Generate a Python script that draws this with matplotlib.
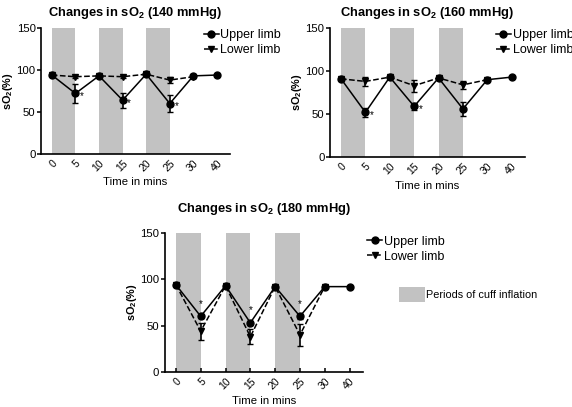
import numpy as np
import matplotlib
matplotlib.use("Agg")
import matplotlib.pyplot as plt
from matplotlib.lines import Line2D
from matplotlib.patches import Patch

plt.rcParams['font.family'] = ['Liberation Sans', 'DejaVu Sans']
plt.rcParams['mathtext.fontset'] = 'custom'
plt.rcParams['mathtext.rm'] = 'Liberation Sans'
plt.rcParams['mathtext.bf'] = 'Liberation Sans:bold'

time_labels = ['0', '5', '10', '15', '20', '25', '30', '40']
cuff_periods = [(0, 1), (2, 3), (4, 5)]

# 140 mmHg
up140 = [94, 72, 93, 64, 95, 60, 93, 94]
up140_err = [1, 11, 1, 9, 1, 10, 1, 1]
lo140 = [94, 92, 93, 92, 95, 88, 92, np.nan]
lo140_err = [1, 1, 1, 1, 1, 4, 1, 0]
star140 = [1, 3, 5]

# 160 mmHg
up160 = [91, 52, 93, 59, 92, 56, 90, 93]
up160_err = [1, 5, 1, 4, 1, 8, 1, 1]
lo160 = [91, 88, 93, 83, 92, 84, 90, np.nan]
lo160_err = [1, 5, 1, 7, 1, 5, 1, 0]
star160 = [1, 3]

# 180 mmHg
up180 = [94, 60, 93, 53, 92, 60, 92, 92]
up180_err = [1, 2, 1, 2, 1, 3, 1, 1]
lo180 = [94, 44, 93, 38, 92, 40, 92, np.nan]
lo180_err = [1, 9, 1, 8, 1, 12, 1, 0]
star180 = [1, 3, 5]

fig = plt.figure(figsize=(5.72, 4.07), dpi=100)

def panel(rect, title, up, up_err, lo, lo_err, stars, star_above, legend_pos,
          title_pad=9, cuff_legend=False, xtick_dir='out', xtick_len=0):
    ax = fig.add_axes(rect)
    x = np.arange(len(time_labels))
    for a, b in cuff_periods:
        ax.axvspan(a, b, ymin=0, ymax=1, color='#c2c2c2', lw=0, zorder=0)
    ax.errorbar(x, lo, yerr=lo_err, color='black', ls='--', lw=1.1, marker='v',
                ms=5, capsize=2.5, elinewidth=1.2, zorder=3)
    ax.errorbar(x, up, yerr=up_err, color='black', ls='-', lw=1.1, marker='o',
                ms=5, capsize=2.5, elinewidth=1.2, zorder=4)
    for i in stars:
        if star_above:
            ax.text(x[i], up[i] + 8, '*', fontsize=7, ha='center', va='bottom')
        else:
            ax.text(x[i] + 0.2, up[i] - 3, '*', fontsize=7, ha='left', va='center')
    ax.set_xlim(-0.45, 7.55)
    ax.set_ylim(0, 150)
    ax.set_yticks([0, 50, 100, 150])
    ax.set_xticks(x)
    ax.set_xticklabels(time_labels, rotation=45, ha='right', rotation_mode='anchor', fontsize=7.5)
    ax.tick_params(axis='y', labelsize=8.2, length=3, width=1.1, pad=1)
    ax.tick_params(axis='x', length=xtick_len, width=1.1, pad=3, direction=xtick_dir)
    for s in ['top', 'right']:
        ax.spines[s].set_visible(False)
    for s in ['left', 'bottom']:
        ax.spines[s].set_linewidth(1.2)
    ax.set_title(title, fontsize=9.3, fontweight='bold', pad=title_pad)
    ax.set_ylabel(r'sO$_\mathbf{2}$(%)', fontsize=7.8, fontweight='bold', labelpad=1)
    ax.set_xlabel('Time in mins', fontsize=8.2, labelpad=3)
    handles = [Line2D([0], [0], color='black', ls='-', marker='o', ms=5, lw=1.1),
               Line2D([0], [0], color='black', ls='--', marker='v', ms=5, lw=1.1)]
    leg = ax.legend(handles, ['Upper limb', 'Lower limb'], loc='upper left',
                    bbox_to_anchor=legend_pos, frameon=False, fontsize=9,
                    handlelength=1.2, handletextpad=0.15, borderaxespad=0,
                    borderpad=0, labelspacing=0.25)
    if cuff_legend:
        ax.add_artist(leg)
        ax.legend([Patch(facecolor='#c2c2c2', edgecolor='none')], ['Periods of cuff inflation'],
                  loc='upper left', bbox_to_anchor=(1.18, 0.61),
                  frameon=False, fontsize=7.8, handlelength=2.4, handleheight=1.7,
                  handletextpad=0.1, borderaxespad=0, borderpad=0)
    return ax

panel([0.072, 0.622, 0.330, 0.309], r'Changes in sO$_\mathbf{2}$ (140 mmHg)',
      up140, up140_err, lo140, lo140_err, star140, False, (0.86, 0.99))
panel([0.577, 0.614, 0.341, 0.317], r'Changes in sO$_\mathbf{2}$ (160 mmHg)',
      up160, up160_err, lo160, lo160_err, star160, False, (0.85, 0.99))
panel([0.288, 0.086, 0.347, 0.342], r'Changes in sO$_\mathbf{2}$ (180 mmHg)',
      up180, up180_err, lo180, lo180_err, star180, True, (1.02, 0.98),
      title_pad=15, cuff_legend=True, xtick_dir='in', xtick_len=3)

fig.savefig('out.png', dpi=100)
